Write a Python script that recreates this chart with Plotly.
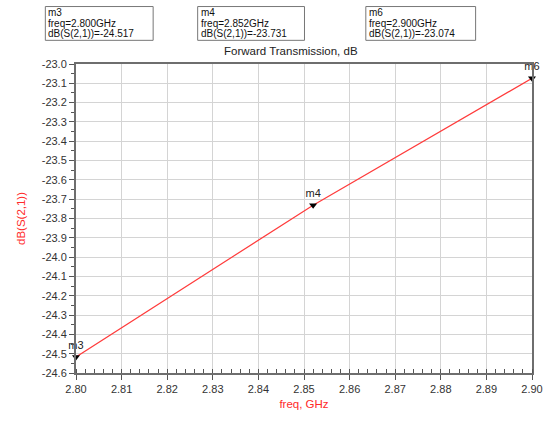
import plotly.graph_objects as go

# Marker readouts for S(2,1)
marker_names = ["m3", "m4", "m6"]
freq_ghz = [2.800, 2.852, 2.900]
s21_db = [-24.517, -23.731, -23.074]

x_ticks = [2.80, 2.81, 2.82, 2.83, 2.84, 2.85, 2.86, 2.87, 2.88, 2.89, 2.90]
y_ticks = [-23.0, -23.1, -23.2, -23.3, -23.4, -23.5, -23.6, -23.7, -23.8,
           -23.9, -24.0, -24.1, -24.2, -24.3, -24.4, -24.5, -24.6]

W, H = 555, 421
L, R, T, B = 76, 18, 64, 37
FONT = "Liberation Sans, Arial, sans-serif"


def px_x(x):
    return (x - L) / (W - L - R)


def px_y(y):
    return (H - B - y) / (H - T - B)


fig = go.Figure()

fig.add_trace(go.Scatter(
    x=freq_ghz, y=s21_db, mode="lines",
    line=dict(color="#ff3b3b", width=1.2),
    hoverinfo="skip", showlegend=False,
))

fig.add_trace(go.Scatter(
    x=freq_ghz, y=s21_db, mode="markers+text",
    marker=dict(symbol="triangle-down", size=7, color="black"),
    text=marker_names, textposition="top center",
    textfont=dict(family=FONT, size=11, color="#222"),
    cliponaxis=False, showlegend=False,
))

annotations = []
shapes = []
box_left = [45, 199, 369]
box_right = [154, 307, 480]
for name, f, v, xl, xr in zip(marker_names, freq_ghz, s21_db, box_left, box_right):
    shapes.append(dict(
        type="rect", xref="paper", yref="paper",
        x0=px_x(xl), x1=px_x(xr), y0=px_y(39.5), y1=px_y(4.5),
        line=dict(color="#777", width=1), fillcolor="white", layer="above",
    ))
    lines = [name, f"freq={f:.3f}GHz", f"dB(S(2,1))={v:.3f}"]
    for i, txt in enumerate(lines):
        annotations.append(dict(
            text=txt, xref="paper", yref="paper",
            x=px_x(xl + 2), y=px_y(10.5 + 11.2 * i),
            xanchor="left", yanchor="middle", showarrow=False,
            font=dict(family=FONT, size=10, color="#111"),
            borderpad=0,
        ))

annotations.append(dict(
    text="Forward Transmission, dB", xref="paper", yref="paper",
    x=px_x(293), y=px_y(51), xanchor="center", yanchor="middle",
    showarrow=False, font=dict(family=FONT, size=11.5, color="#222"),
))

axis_common = dict(
    showline=True, linecolor="#6e6e6e", linewidth=2, mirror=True,
    showgrid=True, gridcolor="#d4d4d4", gridwidth=1,
    zeroline=False, ticks="outside", tickcolor="#555", ticklen=5,
    tickfont=dict(family=FONT, size=11, color="#333"),
)

fig.update_layout(
    width=W, height=H,
    margin=dict(l=L, r=R, t=T, b=B),
    paper_bgcolor="white", plot_bgcolor="white",
    font=dict(family=FONT),
    shapes=shapes, annotations=annotations,
    xaxis=dict(
        **axis_common,
        range=[2.80, 2.90], tickvals=x_ticks,
        ticktext=[f"{t:.2f}" for t in x_ticks],
        minor=dict(dtick=0.002, ticks="inside", ticklen=4, tickcolor="#555",
                   showgrid=False),
        title=dict(text="freq, GHz", standoff=6,
                   font=dict(family=FONT, size=11.5, color="#ff2a2a")),
    ),
    yaxis=dict(
        **axis_common,
        range=[-24.6, -23.0], tickvals=y_ticks,
        ticktext=[f"{t:.1f}" for t in y_ticks],
        minor=dict(dtick=0.05, ticks="outside", ticklen=3, tickcolor="#555",
                   showgrid=False),
        title=dict(text="dB(S(2,1))", standoff=14,
                   font=dict(family=FONT, size=11.5, color="#ff2a2a")),
    ),
)

fig.write_html("out.html")
